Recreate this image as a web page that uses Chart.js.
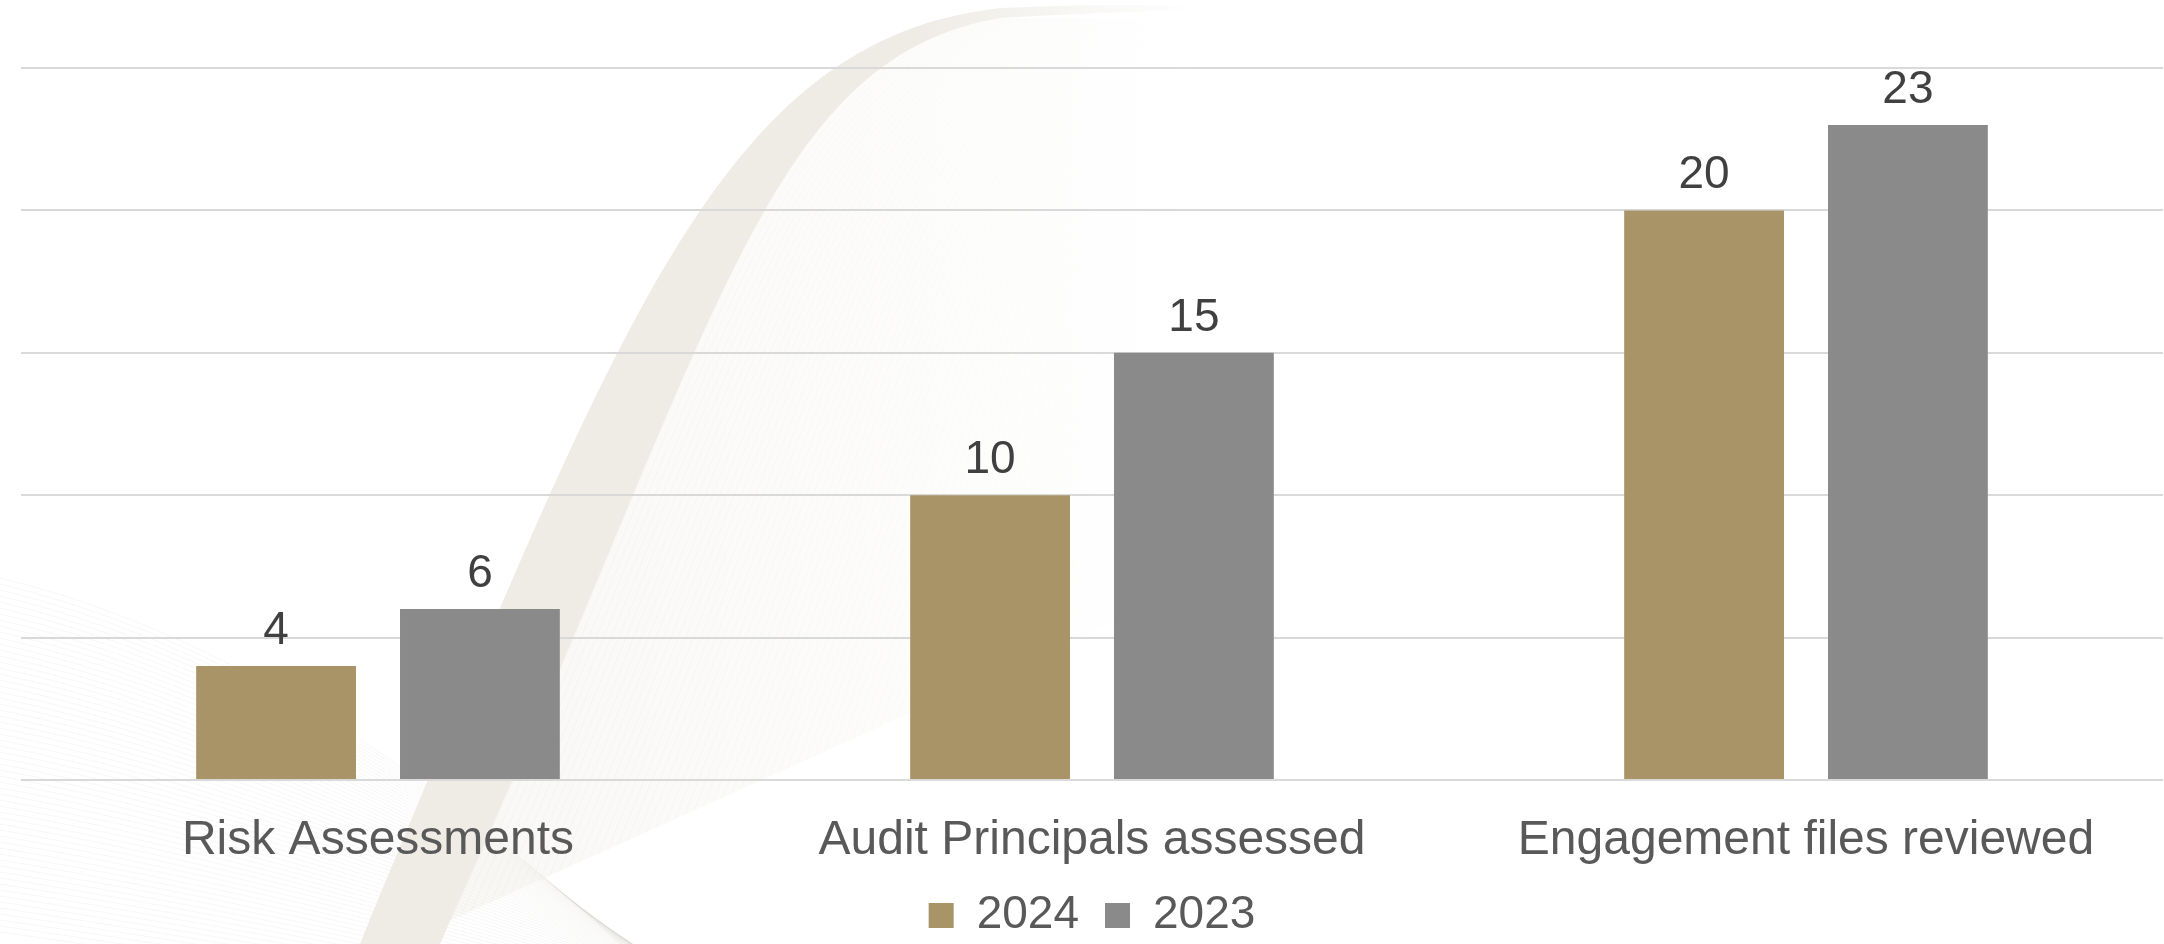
<!DOCTYPE html>
<html>
<head>
<meta charset="utf-8">
<title>Reviews</title>
<script src="https://cdn.jsdelivr.net/npm/chart.js@4.4.1/dist/chart.umd.min.js"></script>
<style>
  html, body { margin: 0; padding: 0; background: #ffffff; }
  #reviewChart { display: block; }
</style>
</head>
<body>
<canvas id="reviewChart" width="2164" height="944"></canvas>
<script>
// Chart values
const categories = ['Risk Assessments', 'Audit Principals assessed', 'Engagement files reviewed'];
const seriesNames = ['2024', '2023'];
const values2024 = [4, 10, 20];
const values2023 = [6, 15, 23];
const yMax = 25;
const yStep = 5;

const seriesColors = ['#a99467', '#8a8a8a'];
const fontFamily = '"Liberation Sans", Arial, Helvetica, sans-serif';

// right-hand edge of the swoosh band, bottom to top
function bandRightEdge(ctx, reverse) {
    if (!reverse) {
        ctx.moveTo(440, 944);
        ctx.bezierCurveTo(720, 330, 760, 60, 1000, 18);
    } else {
        ctx.lineTo(1000, 18);
        ctx.bezierCurveTo(760, 60, 720, 330, 440, 944);
    }
}

// Decorative swoosh behind the plot
const backdrop = {
    id: 'backdrop',
    beforeDraw(chart) {
        const ctx = chart.ctx;
        ctx.save();
        ctx.fillStyle = '#ffffff';
        ctx.fillRect(0, 0, chart.width, chart.height);

        // faint stripes, lower left
        ctx.lineWidth = 1;
        for (let i = 0; i < 60; i++) {
            ctx.strokeStyle = 'rgba(185,180,170,0.10)';
            ctx.beginPath();
            ctx.moveTo(0, 578 + i * 6);
            ctx.quadraticCurveTo(300, 650 + i * 5.5, 620 + i * 4, 944 + i * 2);
            ctx.stroke();
        }

        // pale hatched area right of the band, fading out to the right
        ctx.save();
        ctx.beginPath();
        bandRightEdge(ctx, false);
        ctx.lineTo(1250, 18);
        ctx.lineTo(1250, 560);
        ctx.lineTo(440, 925);
        ctx.closePath();
        ctx.clip();
        const pale = ctx.createLinearGradient(500, 0, 1200, 0);
        pale.addColorStop(0, 'rgba(242,240,235,0.45)');
        pale.addColorStop(1, 'rgba(242,240,235,0)');
        ctx.fillStyle = pale;
        ctx.fillRect(400, 0, 900, 944);
        const hatch = ctx.createLinearGradient(600, 0, 1200, 0);
        hatch.addColorStop(0, 'rgba(200,196,188,0.10)');
        hatch.addColorStop(1, 'rgba(200,196,188,0)');
        ctx.strokeStyle = hatch;
        for (let i = 0; i < 70; i++) {
            ctx.beginPath();
            ctx.moveTo(1000 + i * 5, 18);
            ctx.bezierCurveTo(760 + i * 6, 60 + i, 720 + i * 7, 330, 440 + i * 8, 944);
            ctx.stroke();
        }
        ctx.restore();

        // main beige band
        const grad = ctx.createLinearGradient(920, 0, 1200, 0);
        grad.addColorStop(0, 'rgba(239,236,230,1)');
        grad.addColorStop(1, 'rgba(239,236,230,0)');
        ctx.fillStyle = grad;
        ctx.beginPath();
        ctx.moveTo(360, 944);
        ctx.bezierCurveTo(620, 320, 720, 40, 1000, 8);
        ctx.quadraticCurveTo(1100, 3, 1200, 6);
        ctx.lineTo(1200, 10);
        ctx.quadraticCurveTo(1100, 12, 1000, 18);
        bandRightEdge(ctx, true);
        ctx.closePath();
        ctx.fill();
        ctx.restore();
    }
};

// Value printed above each bar
const valueLabels = {
    id: 'valueLabels',
    afterDatasetsDraw(chart) {
        const ctx = chart.ctx;
        ctx.save();
        ctx.font = '46px ' + fontFamily;
        ctx.fillStyle = '#404040';
        ctx.textAlign = 'center';
        ctx.textBaseline = 'alphabetic';
        chart.data.datasets.forEach((ds, i) => {
            chart.getDatasetMeta(i).data.forEach((bar, j) => {
                ctx.fillText(String(ds.data[j]), bar.x, bar.y - 22);
            });
        });
        ctx.restore();
    }
};

const ctx = document.getElementById('reviewChart').getContext('2d');
const reviewChart = new Chart(ctx, {
    type: 'bar',
    data: {
        labels: categories,
        datasets: [
            {
                label: seriesNames[0],
                data: values2024,
                backgroundColor: seriesColors[0],
                categoryPercentage: 0.571,
                barPercentage: 0.784
            },
            {
                label: seriesNames[1],
                data: values2023,
                backgroundColor: seriesColors[1],
                categoryPercentage: 0.571,
                barPercentage: 0.784
            }
        ]
    },
    options: {
        responsive: false,
        animation: false,
        devicePixelRatio: 1,
        layout: {
            padding: { left: 21, right: 1, top: 68, bottom: 0 }
        },
        scales: {
            x: {
                grid: { display: false, drawTicks: false },
                border: { display: false },
                ticks: {
                    color: '#595959',
                    font: { family: fontFamily, size: 48, lineHeight: 0.94 },
                    padding: 38,
                    maxRotation: 0
                },
                afterFit(scale) {
                    scale.height = 86.5;
                }
            },
            y: {
                min: 0,
                max: yMax,
                border: { display: false },
                grid: { color: '#d9d9d9', lineWidth: 2, drawTicks: false },
                ticks: { display: false, stepSize: yStep }
            }
        },
        plugins: {
            legend: {
                position: 'bottom',
                maxHeight: 77.5,
                labels: {
                    color: '#595959',
                    font: { family: fontFamily, size: 46 },
                    boxWidth: 25,
                    boxHeight: 25,
                    padding: 26
                }
            },
            tooltip: { enabled: false }
        }
    },
    plugins: [backdrop, valueLabels]
});
</script>
</body>
</html>
